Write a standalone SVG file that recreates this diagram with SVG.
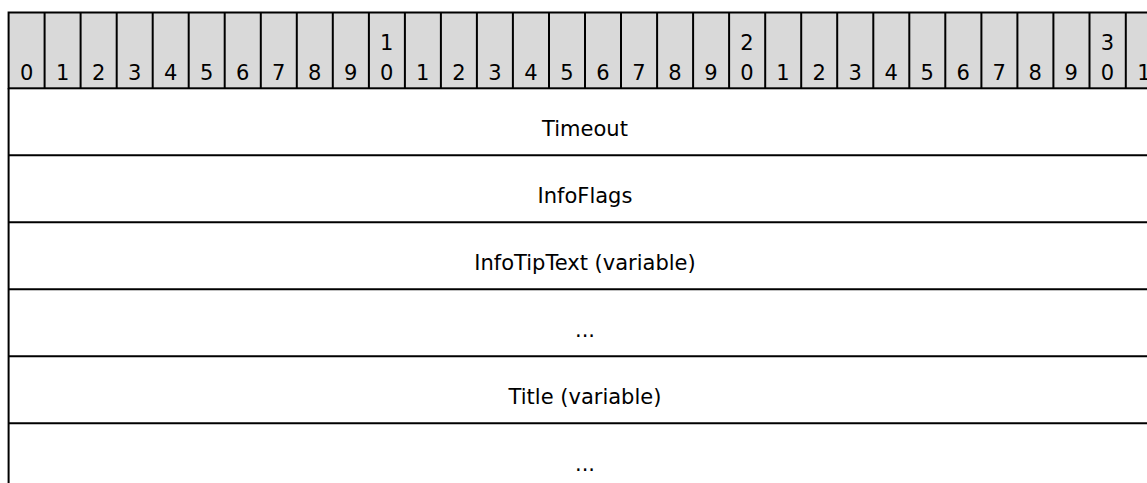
<svg xmlns="http://www.w3.org/2000/svg" width="1147" height="483" viewBox="0 0 1147 483">
<style>
.hdr{fill:#d9d9d9;stroke:#000;stroke-width:2}
.ln{stroke:#000;stroke-width:2;fill:none}
.t{font-family:"DejaVu Sans","Liberation Sans",sans-serif;font-size:21px;fill:#000;text-anchor:middle}
</style>
<rect width="1147" height="483" fill="#fff"/>
<g id="header">
<rect class="hdr" x="8.6" y="12.5" width="1153" height="75.8"/>
<path class="ln" d="M44.6 12.5V88.3M80.6 12.5V88.3M116.7 12.5V88.3M152.7 12.5V88.3M188.7 12.5V88.3M224.7 12.5V88.3M260.8 12.5V88.3M296.8 12.5V88.3M332.8 12.5V88.3M368.9 12.5V88.3M404.9 12.5V88.3M440.9 12.5V88.3M476.9 12.5V88.3M512.9 12.5V88.3M549 12.5V88.3M585 12.5V88.3M621 12.5V88.3M657.1 12.5V88.3M693.1 12.5V88.3M729.1 12.5V88.3M765.2 12.5V88.3M801.2 12.5V88.3M837.2 12.5V88.3M873.3 12.5V88.3M909.3 12.5V88.3M945.3 12.5V88.3M981.4 12.5V88.3M1017.4 12.5V88.3M1053.4 12.5V88.3M1089.5 12.5V88.3M1125.8 12.5V88.3"/>
<g class="t">
<text x="26.6" y="80">0</text>
<text x="62.6" y="80">1</text>
<text x="98.7" y="80">2</text>
<text x="134.7" y="80">3</text>
<text x="170.7" y="80">4</text>
<text x="206.7" y="80">5</text>
<text x="242.7" y="80">6</text>
<text x="278.8" y="80">7</text>
<text x="314.8" y="80">8</text>
<text x="350.8" y="80">9</text>
<text x="386.8" y="50">1</text>
<text x="386.8" y="80">0</text>
<text x="422.8" y="80">1</text>
<text x="458.9" y="80">2</text>
<text x="494.9" y="80">3</text>
<text x="530.9" y="80">4</text>
<text x="566.9" y="80">5</text>
<text x="602.9" y="80">6</text>
<text x="639" y="80">7</text>
<text x="675" y="80">8</text>
<text x="711" y="80">9</text>
<text x="747" y="50">2</text>
<text x="747" y="80">0</text>
<text x="783" y="80">1</text>
<text x="819.1" y="80">2</text>
<text x="855.1" y="80">3</text>
<text x="891.1" y="80">4</text>
<text x="927.1" y="80">5</text>
<text x="963.1" y="80">6</text>
<text x="999.2" y="80">7</text>
<text x="1035.2" y="80">8</text>
<text x="1071.2" y="80">9</text>
<text x="1107.4" y="50">3</text>
<text x="1107.4" y="80">0</text>
<text x="1144" y="80">1</text>
</g>
</g>
<g id="frame">
<path class="ln" d="M8.6 88.3V483"/>
</g>
<g id="field-timeout">
<path class="ln" d="M8.6 155.3H1147"/>
<text class="t" x="585" y="136">Timeout</text>
</g>
<g id="field-infoflags">
<path class="ln" d="M8.6 222.3H1147"/>
<text class="t" x="585" y="203">InfoFlags</text>
</g>
<g id="field-infotiptext">
<path class="ln" d="M8.6 289.3H1147"/>
<text class="t" x="585" y="270">InfoTipText (variable)</text>
</g>
<g id="field-infotiptext-cont">
<path class="ln" d="M8.6 356.3H1147"/>
<text class="t" x="585" y="337">...</text>
</g>
<g id="field-title">
<path class="ln" d="M8.6 423.3H1147"/>
<text class="t" x="585" y="404">Title (variable)</text>
</g>
<g id="field-title-cont">
<text class="t" x="585" y="471">...</text>
</g>
<g id="connectors"/>
</svg>
